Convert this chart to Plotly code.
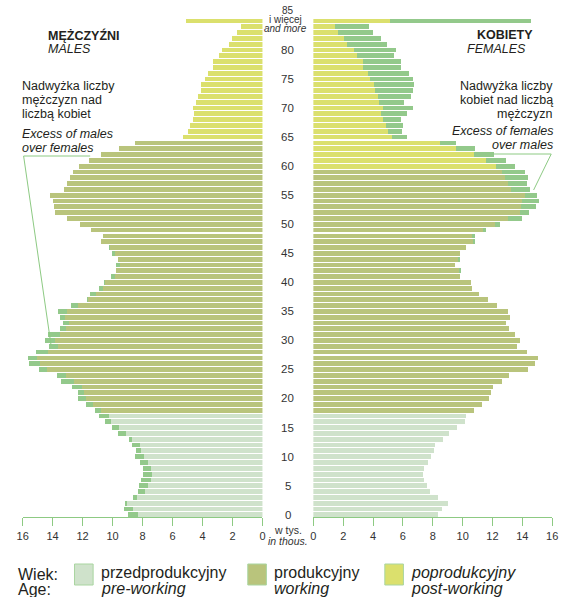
import plotly.graph_objects as go

# ---------------- data (thousands) ----------------
ages = list(range(86))  # 0 .. 84, 85 = "85 and more"

males = [9.00, 9.26, 9.22, 8.63, 8.32, 8.24, 8.12, 8.02, 8.02, 8.17,
         8.50, 8.43, 8.71, 8.95, 9.69, 10.08, 10.52, 10.92, 11.22, 11.81,
         12.35, 12.35, 12.70, 13.48, 13.73, 14.92, 15.60, 15.64, 15.12, 14.27,
         14.55, 14.33, 13.53, 13.33, 13.53, 13.64, 12.83, 11.72, 11.52, 10.96,
         10.59, 10.13, 9.80, 9.80, 9.69, 10.09, 10.26, 10.78, 10.65, 11.44,
         12.20, 13.05, 13.86, 13.92, 14.03, 14.23, 13.27, 13.07, 12.88, 12.68,
         12.27, 11.57, 10.78, 9.61, 8.50, 5.31, 5.01, 4.86, 4.66, 4.58,
         4.66, 4.44, 4.34, 4.12, 4.10, 3.83, 3.66, 3.33, 3.33, 2.94,
         2.75, 2.27, 2.09, 1.70, 1.44, 5.14]

females = [8.36, 8.63, 9.03, 8.37, 7.87, 7.65, 7.45, 7.39, 7.45, 7.67,
           7.91, 8.11, 8.18, 8.72, 9.11, 9.62, 10.16, 10.27, 10.77, 11.34,
           11.78, 11.91, 12.04, 12.63, 13.16, 14.40, 14.84, 15.08, 14.36, 13.68,
           13.86, 13.55, 13.11, 12.96, 13.18, 13.07, 12.33, 11.69, 11.15, 10.67,
           10.57, 9.86, 9.88, 9.53, 9.84, 9.85, 10.25, 10.88, 10.88, 11.56,
           12.50, 14.03, 14.49, 14.95, 15.15, 15.02, 14.56, 14.34, 14.43, 14.21,
           13.51, 12.92, 12.11, 10.86, 9.57, 6.29, 5.99, 6.03, 5.90, 6.27,
           6.67, 6.08, 6.58, 6.67, 6.77, 6.69, 6.40, 5.92, 5.88, 5.44,
           5.55, 4.94, 4.55, 4.04, 3.72, 14.60]

age_labels = [0, 5, 10, 15, 20, 25, 30, 35, 40, 45, 50, 55, 60, 65, 70, 75, 80]
x_ticks = [0, 2, 4, 6, 8, 10, 12, 14, 16]

WORK_START = 18
RETIRE_M = 65
RETIRE_F = 60

# ---------------- style ----------------
W, H = 568, 597
FONT = "Liberation Sans, Arial, sans-serif"
TXT = "#231f20"
COL_PRE = "#cfe2cb"
COL_WORK = "#b9c47c"
COL_POST = "#dbe06d"
COL_EXC = "#93c98b"
COL_AXIS = "#8dca83"
COL_BOX = "#a9d5a0"


def pxx(x):
    return x / W


def pxy(y):
    return 1 - y / H


def group_color(age, retire):
    if age < WORK_START:
        return COL_PRE
    if age < retire:
        return COL_WORK
    return COL_POST


base = [min(m, f) for m, f in zip(males, females)]
exc_m = [max(m - f, 0) for m, f in zip(males, females)]
exc_f = [max(f - m, 0) for m, f in zip(males, females)]
col_m = [group_color(a, RETIRE_M) for a in ages]
col_f = [group_color(a, RETIRE_F) for a in ages]

BW = 0.82
fig = go.Figure()
fig.add_trace(go.Bar(y=ages, x=base, orientation="h", width=BW,
                     marker=dict(color=col_m, line=dict(width=0)),
                     xaxis="x", yaxis="y", showlegend=False, hoverinfo="skip"))
fig.add_trace(go.Bar(y=ages, x=exc_m, orientation="h", width=BW,
                     marker=dict(color=COL_EXC, line=dict(width=0)),
                     xaxis="x", yaxis="y", showlegend=False, hoverinfo="skip"))
fig.add_trace(go.Bar(y=ages, x=base, orientation="h", width=BW,
                     marker=dict(color=col_f, line=dict(width=0)),
                     xaxis="x2", yaxis="y2", showlegend=False, hoverinfo="skip"))
fig.add_trace(go.Bar(y=ages, x=exc_f, orientation="h", width=BW,
                     marker=dict(color=COL_EXC, line=dict(width=0)),
                     xaxis="x2", yaxis="y2", showlegend=False, hoverinfo="skip"))

Y_TOP, Y_BOT = 17.9, 517.3
ydom = [1 - Y_BOT / H, 1 - Y_TOP / H]
yrange = [-0.45, 85.5]

axis_common = dict(tickvals=x_ticks, ticks="outside", ticklen=8, tickwidth=1,
                   tickcolor=COL_AXIS, showline=True, linecolor=COL_AXIS, linewidth=1,
                   showgrid=False, zeroline=False,
                   tickfont=dict(family=FONT, size=11, color="#333333"), fixedrange=True)

fig.update_layout(
    width=W, height=H,
    margin=dict(l=0, r=0, t=0, b=0),
    paper_bgcolor="white", plot_bgcolor="white",
    barmode="stack", bargap=0,
    xaxis=dict(domain=[17 / W, 262 / W], range=[16, 0], anchor="y", **axis_common),
    xaxis2=dict(domain=[314 / W, 558 / W], range=[0, 16], anchor="y2", **axis_common),
    yaxis=dict(domain=ydom, range=yrange, visible=False, anchor="x", fixedrange=True),
    yaxis2=dict(domain=ydom, range=yrange, visible=False, anchor="x2", fixedrange=True),
)

ann = []


def text(x, y, s, size=13, anchor="left", italic=False, bold=False, color=TXT):
    if italic:
        s = "<i>" + s + "</i>"
    if bold:
        s = "<b>" + s + "</b>"
    ann.append(dict(x=pxx(x), y=pxy(y), xref="paper", yref="paper", text=s,
                    showarrow=False, xanchor=anchor, yanchor="middle", borderpad=0,
                    font=dict(family=FONT, size=size, color=color)))


# age labels in the middle column
for a in age_labels:
    ann.append(dict(x=pxx(288), y=a, xref="paper", yref="y", text=str(a),
                    showarrow=False, xanchor="center", yanchor="middle", borderpad=0,
                    font=dict(family=FONT, size=11.5, color="#333333")))
text(288, 10.5, "85", 10, "center", color="#333333")
text(286, 19.5, "i więcej", 10, "center", color="#333333")
text(286, 28.5, "and more", 10, "center", italic=True, color="#333333")

# unit label
text(288, 530, "w tys.", 10.5, "center", color="#333333")
text(288, 541, "in thous.", 10.5, "center", italic=True, color="#333333")

# titles
text(42, 35, "MĘŻCZYŹNI", 12.5, "left", bold=True)
text(42, 49, "MALES", 12.5, "left", italic=True)
text(539, 35, "KOBIETY", 12.5, "right", bold=True)
text(532, 49, "FEMALES", 12.5, "right", italic=True)

# excess notes
NS = 12.5
text(15, 86, "Nadwyżka liczby", NS, "left")
text(15, 100, "mężczyzn nad", NS, "left")
text(15, 114, "liczbą kobiet", NS, "left")
text(15, 134, "Excess of males", NS, "left", italic=True)
text(15, 148, "over females", NS, "left", italic=True)

text(560, 86, "Nadwyżka liczby", NS, "right")
text(560, 100, "kobiet nad liczbą", NS, "right")
text(560, 114, "mężczyzn", NS, "right")
text(560, 131, "Excess of females", NS, "right", italic=True)
text(560, 145, "over males", NS, "right", italic=True)

# legend
text(11, 574, "Wiek:", 16, "left")
text(11, 589, "Age:", 16, "left")
text(96, 572, "przedprodukcyjny", 16, "left")
text(96, 588, "pre-working", 16, "left", italic=True)
text(273, 572, "produkcyjny", 16, "left")
text(273, 588, "working", 16, "left", italic=True)
text(413, 572, "poprodukcyjny", 16, "left", italic=True)
text(413, 588, "post-working", 16, "left", italic=True)

shapes = []
for x0, col in [(70, COL_PRE), (247, COL_WORK), (387, COL_POST)]:
    shapes.append(dict(type="rect", xref="paper", yref="paper",
                       x0=pxx(x0), x1=pxx(x0 + 19), y0=pxy(585), y1=pxy(564),
                       fillcolor=col, line=dict(color=COL_BOX, width=1)))


def path(points):
    d = "M " + " L ".join(f"{pxx(x):.5f},{pxy(y):.5f}" for x, y in points)
    return dict(type="path", xref="paper", yref="paper", path=d,
                line=dict(color=COL_AXIS, width=1))


shapes.append(path([(86, 156), (18, 156), (46, 345)]))
shapes.append(path([(498, 154), (557, 154), (539, 190)]))

fig.update_layout(annotations=ann, shapes=shapes)

fig.write_html(
    "out.html",
    config={"displayModeBar": False},
    post_script="document.body.style.margin='0px';document.body.style.overflow='hidden';",
)
